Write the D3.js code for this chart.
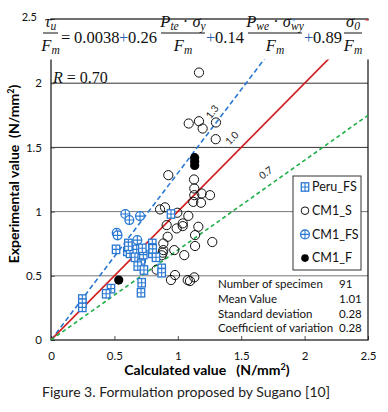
<!DOCTYPE html>
<html>
<head>
<meta charset="utf-8">
<script src="https://cdn.jsdelivr.net/npm/d3@7"></script>
<style>
  body { margin: 0; background: #fff; }
  svg { display: block; }
</style>
</head>
<body>
<div id="chart"></div>
<script>
// values: [calculated, experimental]
const peruFS = [
  [0.247, 0.319], [0.247, 0.287], [0.247, 0.254], [0.473, 0.400], [0.435, 0.360],
  [0.513, 0.706], [0.610, 0.752], [0.602, 0.690], [0.623, 0.675], [0.676, 0.706],
  [0.662, 0.644], [0.715, 0.636], [0.710, 0.591], [0.684, 0.576], [0.733, 0.545],
  [0.715, 0.446], [0.710, 0.368], [0.799, 0.752], [0.799, 0.675], [0.828, 0.644],
  [0.873, 0.558], [0.873, 0.524], [0.946, 0.981], [0.728, 0.665], [0.720, 0.714],
  [0.802, 0.710], [0.610, 0.730]
];
const cm1S = [
  [1.167, 2.083], [1.086, 1.686], [1.167, 1.704], [1.196, 1.647], [1.301, 1.694],
  [1.299, 1.564], [0.925, 1.284], [1.128, 1.250], [1.130, 1.180], [1.188, 1.141],
  [1.254, 1.128], [1.130, 1.128], [1.183, 1.069], [1.122, 1.076], [0.860, 1.017],
  [0.899, 1.033], [1.083, 0.967], [0.996, 0.991], [1.039, 0.908], [0.991, 0.869],
  [1.039, 0.887], [1.162, 0.882], [1.136, 0.817], [1.272, 0.763], [0.912, 0.895],
  [0.920, 0.804], [0.886, 0.752], [0.886, 0.700], [0.881, 0.680], [0.873, 0.660],
  [0.972, 0.700], [1.051, 0.661], [1.136, 0.732], [0.833, 0.548], [0.946, 0.467],
  [1.078, 0.467], [1.130, 0.488], [0.978, 0.506], [1.096, 0.459]
];
const cm1FS = [
  [0.586, 0.981], [0.618, 0.934], [0.702, 0.965], [0.518, 0.835], [0.525, 0.815],
  [0.681, 0.778]
];
const cm1F = [
  [0.534, 0.467], [1.133, 1.360], [1.133, 1.390], [1.133, 1.420]
];

const ratioLines = [
  { k: 1.3, label: "1.3", color: "#2a78d2", dash: "5,3" },
  { k: 1.0, label: "1.0", color: "#d01f1f", dash: null },
  { k: 0.7, label: "0.7", color: "#1fae48", dash: "4,3" }
];
const tickValues = [0, 0.5, 1, 1.5, 2, 2.5];
const gridValues = [0.5, 1, 1.5, 2];
const statsRows = [
  ["Number of specimen", "91"],
  ["Mean Value", "1.01"],
  ["Standard deviation", "0.28"],
  ["Coefficient of variation", "0.28"]
];
const legendItems = ["Peru_FS", "CM1_S", "CM1_FS", "CM1_F"];

const W = 388, H = 412;
const sans = "Lato, 'Open Sans', sans-serif";
const serif = "'Liberation Serif', 'DejaVu Serif', serif";
const blue = "#2a78d2";

const svg = d3.select("#chart").append("svg").attr("width", W).attr("height", H);

const x = d3.scaleLinear().domain([0, 2.5]).range([51, 368]);
const y = d3.scaleLinear().domain([0, 2.5]).range([340, 19]);

svg.append("defs").append("clipPath").attr("id", "plot")
  .append("rect").attr("x", x(0)).attr("y", y(2.5))
  .attr("width", x(2.5) - x(0)).attr("height", y(0) - y(2.5));

// gridlines
svg.append("g").selectAll("line").data(gridValues).enter().append("line")
  .attr("x1", x(0)).attr("x2", x(2.5))
  .attr("y1", d => y(d)).attr("y2", d => y(d))
  .style("stroke", d => d >= 1.5 ? "#333" : "#777").style("stroke-width", 1);

// axes (ticks pointing inwards)
const xAxis = svg.append("g").attr("transform", `translate(0,${y(0)})`)
  .call(d3.axisBottom(x).tickValues(tickValues).tickSize(-4).tickPadding(12).tickFormat(d => String(d)));
const yAxis = svg.append("g").attr("transform", `translate(${x(0)},0)`)
  .call(d3.axisLeft(y).tickValues(tickValues).tickSize(-4).tickPadding(9).tickFormat(d => String(d)));
[xAxis, yAxis].forEach(a => {
  a.select(".domain").remove();
  a.selectAll("line").style("stroke", "#555");
  a.selectAll("text").style("font-family", sans).style("font-size", "11.5px").style("fill", "#111");
});
// the top y label sits up and left, just above the pasted formula
yAxis.selectAll(".tick").filter(d => d === 2.5).select("text")
  .attr("x", -14).attr("dy", "0.1em").style("font-size", "11px");

// frame
svg.append("rect").attr("x", x(0)).attr("y", y(2.5))
  .attr("width", x(2.5) - x(0)).attr("height", y(0) - y(2.5))
  .style("fill", "none").style("stroke", "#111").style("stroke-width", 1.2);

// ratio lines from the origin
const lineG = svg.append("g").attr("clip-path", "url(#plot)");
lineG.selectAll("line").data(ratioLines).enter().append("line")
  .attr("x1", x(0)).attr("y1", y(0))
  .attr("x2", d => x(Math.min(2.5, 2.5 / d.k))).attr("y2", d => y(Math.min(2.5, 2.5 * d.k)))
  .style("stroke", d => d.color).style("stroke-width", 1.6)
  .style("stroke-dasharray", d => d.dash);

// ratio labels along the lines
const labelPos = { "1.3": [1.27, 1.76, 3, 0], "1.0": [1.47, 1.53, -3, -3], "0.7": [1.71, 1.28, 0, 0] };
svg.selectAll(".rlab").data(ratioLines).enter().append("text")
  .attr("transform", d => {
    const p = labelPos[d.label];
    const ang = -Math.atan(d.k * (y(0) - y(1)) / (x(1) - x(0))) * 180 / Math.PI;
    return `translate(${x(p[0]) + p[2]},${y(p[1]) + p[3]}) rotate(${ang})`;
  })
  .attr("text-anchor", "middle")
  .style("font-family", sans).style("font-size", "10px").style("fill", "#222")
  .text(d => d.label);

// markers
function drawSquare(g, cx, cy) {
  g.append("rect").attr("x", cx - 3.7).attr("y", cy - 4.2).attr("width", 7.4).attr("height", 8.4)
    .style("fill", "#fff").style("stroke", blue).style("stroke-width", 1.3);
  g.append("path").attr("d", `M${cx - 3.7},${cy}H${cx + 3.7}M${cx},${cy - 4.2}V${cy + 4.2}`)
    .style("stroke", blue).style("stroke-width", 1.1);
}
function drawCross(g, cx, cy) {
  g.append("circle").attr("cx", cx).attr("cy", cy).attr("r", 4.4)
    .style("fill", "#fff").style("stroke", blue).style("stroke-width", 1.3);
  g.append("path").attr("d", `M${cx - 4.4},${cy}H${cx + 4.4}M${cx},${cy - 4.4}V${cy + 4.4}`)
    .style("stroke", blue).style("stroke-width", 1.1);
}

svg.append("g").selectAll("circle").data(cm1S).enter().append("circle")
  .attr("cx", d => x(d[0])).attr("cy", d => y(d[1])).attr("r", 4.6)
  .style("fill", "none").style("stroke", "#111").style("stroke-width", 1);

const fsG = svg.append("g");
cm1FS.forEach(d => drawCross(fsG, x(d[0]), y(d[1])));
const peruG = svg.append("g");
peruFS.forEach(d => drawSquare(peruG, x(d[0]), y(d[1])));

svg.append("g").selectAll("circle").data(cm1F).enter().append("circle")
  .attr("cx", d => x(d[0])).attr("cy", d => y(d[1])).attr("r", 4.6)
  .style("fill", "#000");

// R value
const rT = svg.append("text").attr("x", 53).attr("y", 83)
  .style("font-family", serif).style("font-size", "16px").style("fill", "#111");
rT.append("tspan").style("font-style", "italic").text("R");
rT.append("tspan").text(" = 0.70");

// legend
const leg = svg.append("g");
leg.append("rect").attr("x", 293).attr("y", 176).attr("width", 68).attr("height", 94)
  .style("fill", "#fff").style("stroke", "#333").style("stroke-width", 1);
legendItems.forEach((name, i) => {
  const cy = 187 + i * 23.7;
  if (name === "Peru_FS") drawSquare(leg, 305, cy);
  if (name === "CM1_FS") drawCross(leg, 305, cy);
  if (name === "CM1_S") leg.append("circle").attr("cx", 305).attr("cy", cy).attr("r", 3.8)
    .style("fill", "#fff").style("stroke", "#111");
  if (name === "CM1_F") leg.append("circle").attr("cx", 305).attr("cy", cy).attr("r", 3.8)
    .style("fill", "#000");
  leg.append("text").attr("x", 312).attr("y", cy + 4.3)
    .style("font-family", sans).style("font-size", "12.5px").style("fill", "#111").text(name);
});

// statistics
const st = svg.append("g").style("font-family", sans).style("font-size", "11.5px").style("fill", "#111");
statsRows.forEach((r, i) => {
  const by = 288 + i * 14.8;
  st.append("text").attr("x", 218).attr("y", by).text(r[0]);
  st.append("text").attr("x", 339).attr("y", by).text(r[1]);
});

// axis titles
svg.append("text").attr("x", 207).attr("y", 375).attr("text-anchor", "middle")
  .style("font-family", sans).style("font-size", "14px").style("font-weight", "bold")
  .html("Calculated value&#160;&#160;&#160;(N/mm<tspan dy='-5' font-size='9px'>2</tspan><tspan dy='5'>)</tspan>");
svg.append("text").attr("transform", "translate(19,174) rotate(-90)").attr("text-anchor", "middle")
  .style("font-family", sans).style("font-size", "14px").style("font-weight", "bold")
  .html("Experimental value&#160;&#160;(N/mm<tspan dy='-5' font-size='9px'>2</tspan><tspan dy='5'>)</tspan>");

// caption
svg.append("text").attr("x", 42).attr("y", 397)
  .style("font-family", sans).style("font-size", "14px").style("fill", "#222")
  .text("Figure 3. Formulation proposed by Sugano [10]");

// formula pasted over the top of the plot
svg.append("rect").attr("x", 40).attr("y", 20.5).attr("width", 334).attr("height", 39).style("fill", "#fff");
const fx = svg.append("g").style("font-family", serif).style("font-size", "16.5px").style("fill", "#111");

function frac(cx, x0, x1, num) {
  const t = fx.append("text").attr("x", cx).attr("y", 27).attr("text-anchor", "middle");
  num.forEach(p => {
    const s = t.append("tspan").text(p[0]);
    if (p[1] === "i") s.style("font-style", "italic");
    if (p[1] === "sub") s.style("font-style", "italic").style("font-size", "11.5px").attr("dy", 3);
    if (p[1] === "up") s.attr("dy", -3);
  });
  fx.append("line").attr("x1", x0).attr("x2", x1).attr("y1", 33).attr("y2", 33)
    .style("stroke", "#111").style("stroke-width", 1);
  const d = fx.append("text").attr("x", cx).attr("y", 51).attr("text-anchor", "middle");
  d.append("tspan").style("font-style", "italic").text("F");
  d.append("tspan").style("font-style", "italic").style("font-size", "11.5px").attr("dy", 3).text("m");
}
frac(50.5, 43, 58, [["τ", "i"], ["u", "sub"]]);
frac(183, 161, 205, [["P", "i"], ["te", "sub"], [" · ", "up"], ["σ", "i"], ["y", "sub"]]);
frac(275, 248, 302, [["P", "i"], ["we", "sub"], [" · ", "up"], ["σ", "i"], ["wy", "sub"]]);
frac(353, 344, 362, [["σ", "i"], ["0", "sub"]]);

const plain = [["=", 61, "#111"], ["0.0038", 74, "#111"], ["+", 119, "#2d5fae"], ["0.26", 128, "#111"],
  ["+", 206, "#2d5fae"], ["0.14", 215, "#111"], ["+", 304, "#2d5fae"], ["0.89", 313, "#111"]];
plain.forEach(p => fx.append("text").attr("x", p[1]).attr("y", 43).style("fill", p[2]).text(p[0]));
</script>
</body>
</html>
